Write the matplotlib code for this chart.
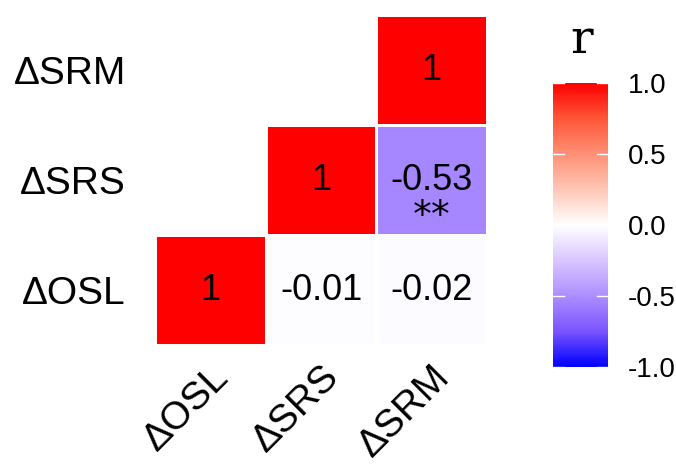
import numpy as np
import matplotlib.pyplot as plt
from matplotlib.colors import LinearSegmentedColormap

labels = ['ΔOSL', 'ΔSRS', 'ΔSRM']
# r values, rows = labels (bottom to top), cols = labels (left to right)
r = np.array([
    [1.00, -0.01, -0.02],
    [-0.01, 1.00, -0.53],
    [-0.02, -0.53, 1.00],
])
stars = np.array([
    ['', '', ''],
    ['', '', '**'],
    ['', '**', ''],
])
cbar_ticks = [-1.0, -0.5, 0.0, 0.5, 1.0]

plt.rcParams['font.family'] = ['Liberation Sans', 'DejaVu Sans']

# blue-white-red, roughly Lab-interpolated like ggplot gradient2
cmap = LinearSegmentedColormap.from_list('bwr_lab', [
    (0.0, '#0000FF'), (0.125, '#7A55FF'), (0.25, '#AD8EFF'), (0.375, '#D8C6FF'),
    (0.5, '#FFFFFF'),
    (0.625, '#FFC7B7'), (0.75, '#FF9076'), (0.875, '#FF5638'), (1.0, '#FF0000'),
])

fig = plt.figure(figsize=(6.76, 4.72), dpi=100)
ax = fig.add_axes([155 / 676, 1 - 345 / 472, 332 / 676, 330 / 472])

n = len(labels)
mask = np.tril(np.ones((n, n), dtype=bool), k=-1)  # hide below diagonal (row > col)
data = np.ma.masked_array(r, mask=mask)
mesh = ax.pcolormesh(np.arange(n + 1), np.arange(n + 1), data, cmap=cmap,
                     vmin=-1, vmax=1, edgecolor='white', linewidth=0.8)

for i in range(n):
    for j in range(n):
        if mask[i, j]:
            continue
        v = r[i, j]
        txt = '1' if v == 1 else f'{v:.2f}'
        ax.text(j + 0.5, i + 0.5, txt, ha='center', va='center', fontsize=26, color='black')
        if stars[i, j] and j > i:
            ax.text(j + 0.5, i + 0.2, stars[i, j], ha='center', va='center_baseline',
                    fontsize=27, family='DejaVu Sans', color='black')

ax.set_xlim(0, n)
ax.set_ylim(0, n)
ax.set_xticks(np.arange(n) + 0.5)
ax.set_yticks(np.arange(n) + 0.5)
ax.set_xticklabels(labels, rotation=45, ha='right', va='top', rotation_mode='anchor', fontsize=28)
ax.set_yticklabels(labels, fontsize=28)
ax.tick_params(axis='y', length=0, pad=21)
ax.tick_params(axis='x', length=0, pad=10)
for s in ax.spines.values():
    s.set_visible(False)

cax = fig.add_axes([553 / 676, 1 - 367 / 472, 55 / 676, 284 / 472])
cb = fig.colorbar(mesh, cax=cax, ticks=cbar_ticks)
cb.outline.set_visible(False)
cb.ax.set_yticklabels([f'{t:.1f}' for t in cbar_ticks], fontsize=20)
cb.ax.tick_params(length=0, pad=14)
for t in cbar_ticks:
    cax.plot([0, 0.2], [t, t], color='white', lw=1, transform=cax.get_yaxis_transform())
    cax.plot([0.8, 1], [t, t], color='white', lw=1, transform=cax.get_yaxis_transform())
fig.text(582 / 676, 1 - 40 / 472, 'r', family='DejaVu Serif', fontsize=34,
         ha='center', va='center')

fig.savefig('out.png', dpi=100)
